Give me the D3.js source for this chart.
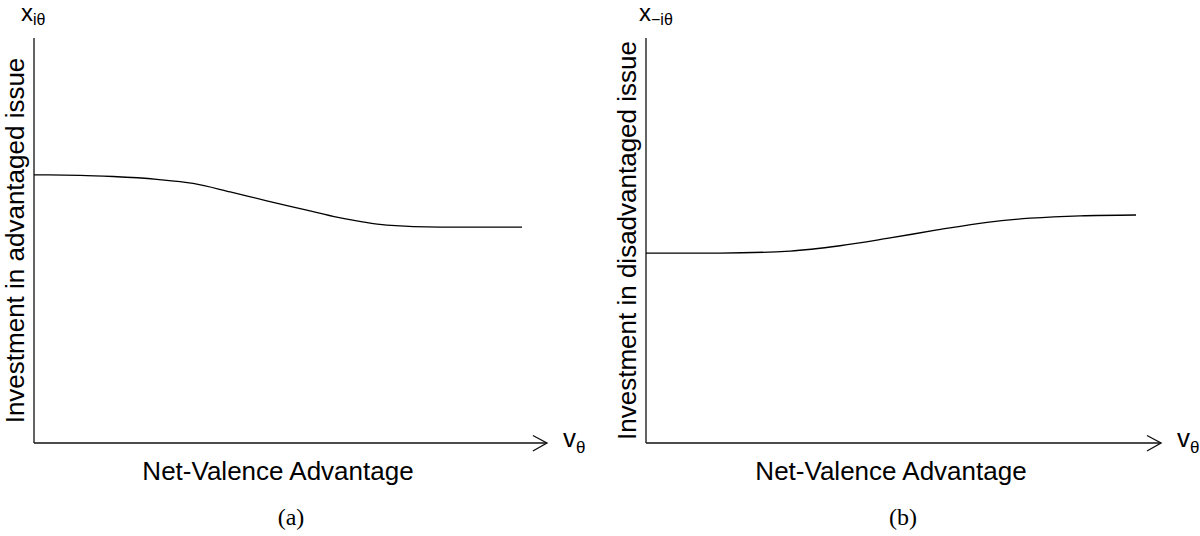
<!DOCTYPE html>
<html>
<head>
<meta charset="utf-8">
<script src="https://cdn.jsdelivr.net/npm/d3@7"></script>
<style>
  html, body { margin: 0; padding: 0; background: #fff; }
  svg { display: block; }
  text { font-family: "Liberation Sans", Arial, sans-serif; fill: #000; }
  .cap { font-family: "Liberation Serif", "DejaVu Serif", serif; }
</style>
</head>
<body>
<svg id="chart" width="1200" height="536"></svg>
<script>
// ---- data (arbitrary units 0..10) ----
const xValsA = [0, 0.94, 1.62, 2.52, 3.26, 4.02, 4.77, 5.59, 6.23, 7.23, 8.32, 10];
const yValsA = [6.62, 6.61, 6.58, 6.51, 6.41, 6.20, 5.98, 5.75, 5.57, 5.38, 5.33, 5.33];
const xValsB = [0, 1.51, 2.94, 3.96, 4.92, 5.94, 6.96, 7.84, 8.86, 10];
const yValsB = [4.69, 4.69, 4.74, 4.87, 5.05, 5.26, 5.45, 5.55, 5.61, 5.63];
const xLabel = "Net-Valence Advantage";
const yLabels = ["Investment in advantaged issue", "Investment in disadvantaged issue"];
const ySyms = [{base: "x", sub: "iθ"}, {base: "x", sub: "−iθ"}];
const xSym = {base: "v", sub: "θ"};
const captions = ["(a)", "(b)"];

const svg = d3.select("#chart");

const panels = [
  {xs: xValsA, ys: yValsA, x0: 34, x1: 522, cap: 291},
  {xs: xValsB, ys: yValsB, x0: 646, x1: 1136, cap: 903}
];

panels.forEach((p, i) => {
  const x = d3.scaleLinear().domain([0, 10]).range([p.x0, p.x1]);
  const y = d3.scaleLinear().domain([0, 10]).range([443, 38]);
  const g = svg.append("g");
  const xEnd = 10.51;

  // axes
  g.append("line")
    .attr("x1", x(0)).attr("x2", x(0))
    .attr("y1", y(0)).attr("y2", y(10))
    .attr("stroke", "#222").attr("stroke-width", 1.4);
  g.append("line")
    .attr("x1", x(0)).attr("x2", x(xEnd))
    .attr("y1", y(0)).attr("y2", y(0))
    .attr("stroke", "#111").attr("stroke-width", 1.4);
  // open arrow head
  g.append("path")
    .attr("d", `M${x(xEnd) - 14},${y(0) - 7.5} L${x(xEnd)},${y(0)} L${x(xEnd) - 14},${y(0) + 8}`)
    .attr("fill", "none").attr("stroke", "#111").attr("stroke-width", 1.4);

  // curve
  const data = p.xs.map((v, k) => [v, p.ys[k]]);
  g.append("path")
    .datum(data)
    .attr("fill", "none")
    .attr("stroke", "#000")
    .attr("stroke-width", 1.3)
    .attr("d", d3.line().x(d => x(d[0])).y(d => y(d[1])).curve(d3.curveMonotoneX));

  // y-axis label (rotated)
  const yMid = (y(0) + y(10)) / 2;
  const yl = x(0) - 10;
  g.append("text")
    .attr("transform", `translate(${yl},${yMid}) rotate(-90)`)
    .attr("text-anchor", "middle")
    .style("font-size", "26px")
    .text(yLabels[i]);

  // y-axis symbol
  const ys = g.append("text")
    .attr("x", x(0) - 13 + (i === 1 ? 6 : 0))
    .attr("y", 21)
    .style("font-size", "24px");
  ys.append("tspan").text(ySyms[i].base);
  ys.append("tspan").attr("dy", 4).style("font-size", "16px").text(ySyms[i].sub);

  // x-axis symbol
  const xs = g.append("text")
    .attr("x", x(xEnd) + 16)
    .attr("y", 447)
    .style("font-size", "26px");
  xs.append("tspan").text(xSym.base);
  xs.append("tspan").attr("dy", 6).style("font-size", "17px").text(xSym.sub);

  // x-axis label
  g.append("text")
    .attr("x", (x(0) + x(10)) / 2)
    .attr("y", 480)
    .attr("text-anchor", "middle")
    .style("font-size", "26px")
    .text(xLabel);

  // caption
  g.append("text")
    .attr("class", "cap")
    .attr("x", p.cap)
    .attr("y", 525)
    .attr("text-anchor", "middle")
    .style("font-size", "24px")
    .text(captions[i]);
});
</script>
</body>
</html>
